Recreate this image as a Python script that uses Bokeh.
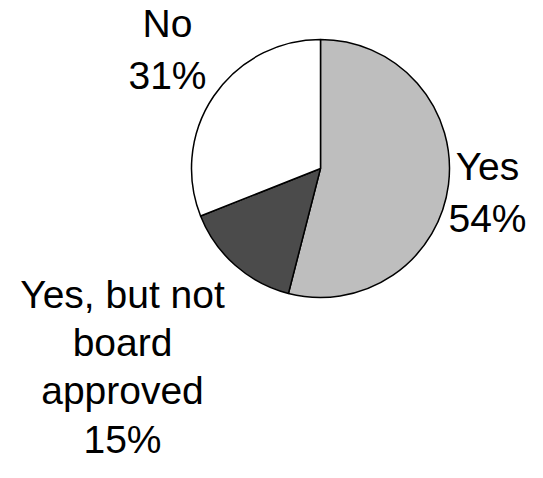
import math
from bokeh.plotting import figure
from bokeh.models import ColumnDataSource, Range1d
from bokeh.core.properties import value
from bokeh.embed import file_html
from bokeh.resources import INLINE

# ---- data ----
categories = ["Yes", "Yes, but not board approved", "No"]
label_words = [["Yes"], ["Yes, but not", "board", "approved"], ["No"]]
values = [54, 15, 31]
colors = ["#bebebe", "#4b4b4b", "#ffffff"]

W, H = 527, 462
p = figure(width=W, height=H, output_backend="svg", toolbar_location=None,
           x_range=Range1d(0, W), y_range=Range1d(0, H), min_border=0)
p.axis.visible = False
p.grid.visible = False
p.outline_line_color = None
p.background_fill_color = "white"
p.border_fill_color = "white"

TEXT_SHIFT = 14  # rendered baseline sits lower than requested

def sx(x):
    return x

def sy(y):
    return H - y

total = sum(values)
cum = 0.0
starts, ends = [], []
for v in values:
    starts.append(math.pi / 2 - 2 * math.pi * cum / total)
    cum += v
    ends.append(math.pi / 2 - 2 * math.pi * cum / total)

src = ColumnDataSource(dict(start=starts, end=ends, color=colors, cat=categories, val=values))
p.wedge(x=sx(320), y=sy(168), radius=129, start_angle="start", end_angle="end",
        direction="clock", fill_color="color", line_color="black", line_width=1.5,
        source=src)

# label layout: (center x, first baseline y, line spacing) in screen px
layout = [(487, 180, 52), (122, 308, 48.2), (167, 37, 51.5)]
xs, ys, texts = [], [], []
for words, v, (cx, by, dy) in zip(label_words, values, layout):
    lines = words + [f"{v}%"]
    for i, t in enumerate(lines):
        xs.append(sx(cx))
        ys.append(sy(by + i * dy - TEXT_SHIFT))
        texts.append(t)

p.text(x=xs, y=ys, text=texts, text_align="center", text_baseline="alphabetic",
       text_font=value("Liberation Sans"), text_font_size="39px", text_color="black")

open("out.html", "w").write(file_html(p, INLINE))
